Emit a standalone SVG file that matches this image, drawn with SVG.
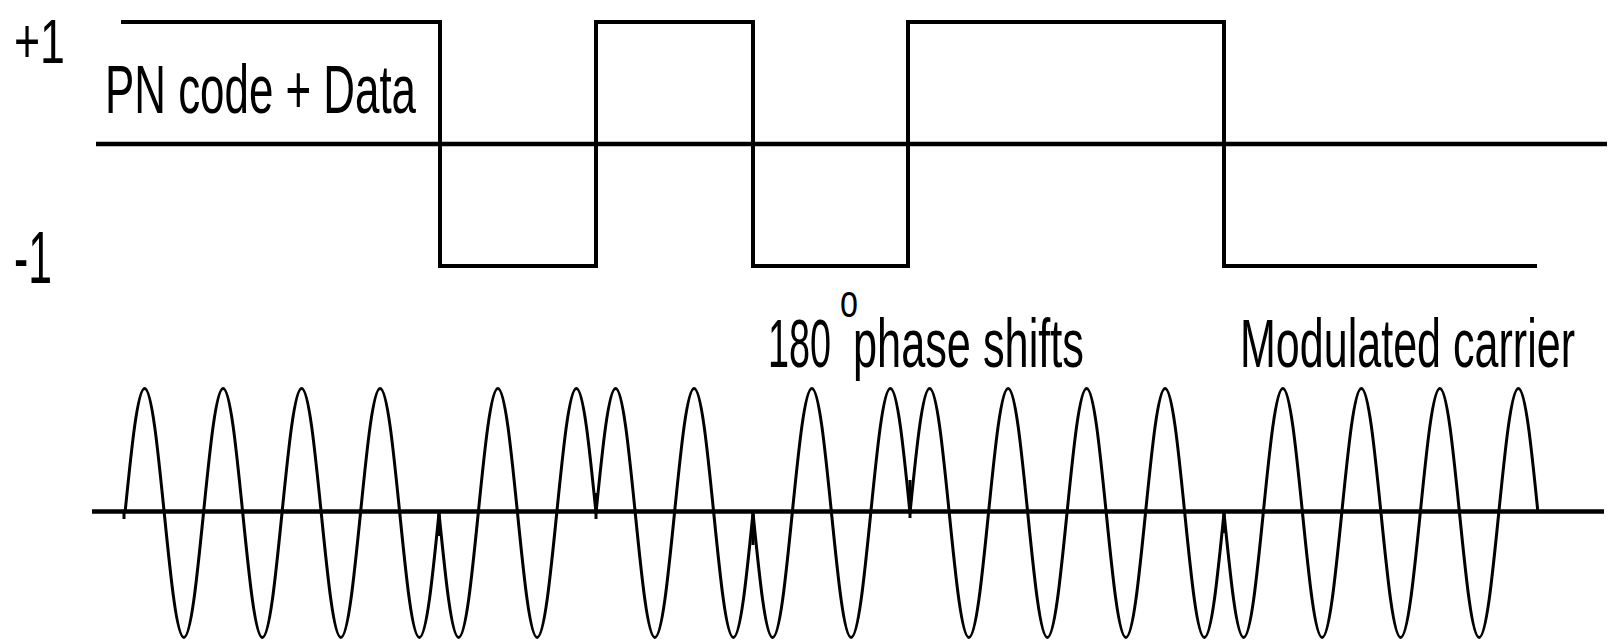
<svg xmlns="http://www.w3.org/2000/svg" width="1613" height="640" viewBox="0 0 1613 640">
<style>
.bg{fill:#ffffff}
.axis{fill:none;stroke:#000;stroke-width:4.5}
.sq{fill:none;stroke:#000;stroke-width:4;stroke-linejoin:miter;stroke-linecap:square}
.wave{fill:none;stroke:#000;stroke-width:3;stroke-linejoin:round}
.tick{stroke:#000;stroke-width:3}
.lbl{font-family:"Liberation Sans",Arial,sans-serif;fill:#000}
</style>
<rect class="bg" x="0" y="0" width="1613" height="640"/>
<g id="pn-code-plot">
  <line class="axis" x1="96" y1="144" x2="1607" y2="144"/>
  <path class="sq" d="M123,22 H440 V266 H596 V22 H753 V266 H908 V22 H1224 V266 H1535"/>
</g>
<g id="carrier-plot">
  <line class="axis" x1="92" y1="511.5" x2="1604" y2="511.5"/>
  <path class="wave" d="M125,513
c6.4,-63.78 12.52,-124.5 19.625,-124.5 c7.105,0 13.225,60.72 19.625,124.5
c6.4,63.78 12.52,124.5 19.625,124.5 c7.105,0 13.225,-60.72 19.625,-124.5
c6.4,-63.78 12.52,-124.5 19.625,-124.5 c7.105,0 13.225,60.72 19.625,124.5
c6.4,63.78 12.52,124.5 19.625,124.5 c7.105,0 13.225,-60.72 19.625,-124.5
c6.4,-63.78 12.52,-124.5 19.625,-124.5 c7.105,0 13.225,60.72 19.625,124.5
c6.4,63.78 12.52,124.5 19.625,124.5 c7.105,0 13.225,-60.72 19.625,-124.5
c6.4,-63.78 12.52,-124.5 19.625,-124.5 c7.105,0 13.225,60.72 19.625,124.5
c6.4,63.78 12.52,124.5 19.625,124.5 c7.105,0 13.225,-60.72 19.625,-124.5
c6.4,63.78 12.52,124.5 19.625,124.5 c7.105,0 13.225,-60.72 19.625,-124.5
c6.4,-63.78 12.52,-124.5 19.625,-124.5 c7.105,0 13.225,60.72 19.625,124.5
c6.4,63.78 12.52,124.5 19.625,124.5 c7.105,0 13.225,-60.72 19.625,-124.5
c6.4,-63.78 12.52,-124.5 19.625,-124.5 c7.105,0 13.225,60.72 19.625,124.5
c6.4,-63.78 12.52,-124.5 19.625,-124.5 c7.105,0 13.225,60.72 19.625,124.5
c6.4,63.78 12.52,124.5 19.625,124.5 c7.105,0 13.225,-60.72 19.625,-124.5
c6.4,-63.78 12.52,-124.5 19.625,-124.5 c7.105,0 13.225,60.72 19.625,124.5
c6.4,63.78 12.52,124.5 19.625,124.5 c7.105,0 13.225,-60.72 19.625,-124.5
c6.4,63.78 12.52,124.5 19.625,124.5 c7.105,0 13.225,-60.72 19.625,-124.5
c6.4,-63.78 12.52,-124.5 19.625,-124.5 c7.105,0 13.225,60.72 19.625,124.5
c6.4,63.78 12.52,124.5 19.625,124.5 c7.105,0 13.225,-60.72 19.625,-124.5
c6.4,-63.78 12.52,-124.5 19.625,-124.5 c7.105,0 13.225,60.72 19.625,124.5
c6.4,-63.78 12.52,-124.5 19.625,-124.5 c7.105,0 13.225,60.72 19.625,124.5
c6.4,63.78 12.52,124.5 19.625,124.5 c7.105,0 13.225,-60.72 19.625,-124.5
c6.4,-63.78 12.52,-124.5 19.625,-124.5 c7.105,0 13.225,60.72 19.625,124.5
c6.4,63.78 12.52,124.5 19.625,124.5 c7.105,0 13.225,-60.72 19.625,-124.5
c6.4,-63.78 12.52,-124.5 19.625,-124.5 c7.105,0 13.225,60.72 19.625,124.5
c6.4,63.78 12.52,124.5 19.625,124.5 c7.105,0 13.225,-60.72 19.625,-124.5
c6.4,-63.78 12.52,-124.5 19.625,-124.5 c7.105,0 13.225,60.72 19.625,124.5
c6.4,63.78 12.52,124.5 19.625,124.5 c7.105,0 13.225,-60.72 19.625,-124.5
c6.4,63.78 12.52,124.5 19.625,124.5 c7.105,0 13.225,-60.72 19.625,-124.5
c6.4,-63.78 12.52,-124.5 19.625,-124.5 c7.105,0 13.225,60.72 19.625,124.5
c6.4,63.78 12.52,124.5 19.625,124.5 c7.105,0 13.225,-60.72 19.625,-124.5
c6.4,-63.78 12.52,-124.5 19.625,-124.5 c7.105,0 13.225,60.72 19.625,124.5
c6.4,63.78 12.52,124.5 19.625,124.5 c7.105,0 13.225,-60.72 19.625,-124.5
c6.4,-63.78 12.52,-124.5 19.625,-124.5 c7.105,0 13.225,60.72 19.625,124.5
c6.4,63.78 12.52,124.5 19.625,124.5 c7.105,0 13.225,-60.72 19.625,-124.5
c6.4,-63.78 12.52,-124.5 19.625,-124.5 c7.105,0 13.225,60.72 19.625,124.5"/>
  <line class="tick" x1="124" y1="511" x2="124" y2="519"/>
  <line class="tick" x1="439" y1="513" x2="439" y2="536"/>
  <line class="tick" x1="596" y1="493" x2="596" y2="519"/>
  <line class="tick" x1="753" y1="513" x2="753" y2="545"/>
  <line class="tick" x1="910" y1="480" x2="910" y2="518"/>
  <line class="tick" x1="1224" y1="513" x2="1224" y2="533"/>
</g>
<g id="labels">
  <text class="lbl" x="14" y="63" font-size="63" textLength="51" lengthAdjust="spacingAndGlyphs">+1</text>
  <text class="lbl" x="14" y="283" font-size="74" textLength="38" lengthAdjust="spacingAndGlyphs">-1</text>
  <text class="lbl" x="105" y="113" font-size="68" textLength="311" lengthAdjust="spacingAndGlyphs">PN code + Data</text>
  <text class="lbl" x="768" y="367" font-size="68" textLength="63" lengthAdjust="spacingAndGlyphs">180</text>
  <text class="lbl" x="840" y="317" font-size="46" textLength="18" lengthAdjust="spacingAndGlyphs">o</text>
  <text class="lbl" x="853" y="367" font-size="68" textLength="231" lengthAdjust="spacingAndGlyphs">phase shifts</text>
  <text class="lbl" x="1240" y="367" font-size="68" textLength="335" lengthAdjust="spacingAndGlyphs">Modulated carrier</text>
</g>
</svg>
